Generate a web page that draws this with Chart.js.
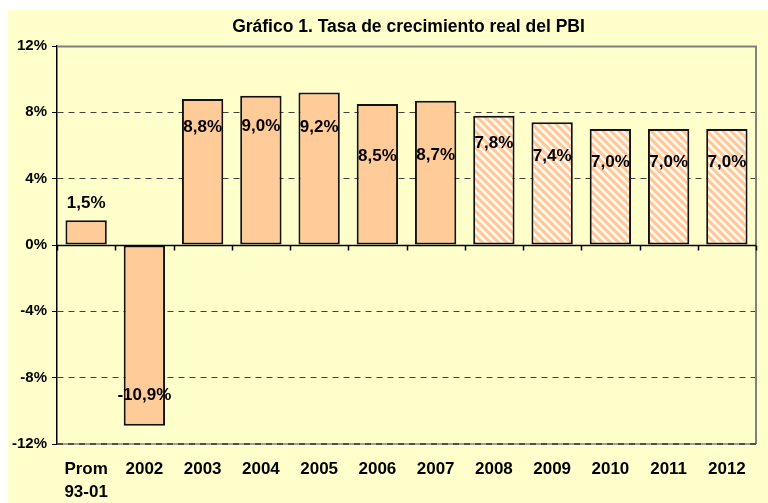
<!DOCTYPE html>
<html><head><meta charset="utf-8">
<script src="https://cdn.jsdelivr.net/npm/chart.js@4"></script>
<style>html,body{margin:0;padding:0;background:#fff}#wrap{width:768px;height:503px;position:relative}</style>
</head><body><div id="wrap"><canvas id="c" width="768" height="503"></canvas></div>
<script>
const categories = [['Prom','93-01'],'2002','2003','2004','2005','2006','2007','2008','2009','2010','2011','2012'];
const growth = [1.5,-10.9,8.8,9.0,9.2,8.5,8.7,7.8,7.4,7.0,7.0,7.0];
const projected = [false,false,false,false,false,false,false,true,true,true,true,true];
const yMin = -12, yMax = 12, yStep = 4;
const chartTitle = 'Gráfico 1. Tasa de crecimiento real del PBI';

const FONT = '"Liberation Sans", Arial, sans-serif';
const canvas = document.getElementById('c');
const ctx0 = canvas.getContext('2d');

function makeHatch(){
  const p = document.createElement('canvas'); p.width = 8; p.height = 8;
  const g = p.getContext('2d');
  g.fillStyle = '#ffffff'; g.fillRect(0,0,8,8);
  g.strokeStyle = '#FFC896'; g.lineWidth = 3.2;
  g.beginPath();
  for (const k of [-8,0,8]) { g.moveTo(k-2,-2); g.lineTo(k+10,10); }
  g.stroke();
  return ctx0.createPattern(p,'repeat');
}
const hatch = makeHatch();

const fmt = v => v.toFixed(1).replace('.', ',') + '%';

const framePlugin = {
  id: 'frame',
  beforeDraw(chart){
    const c = chart.ctx;
    c.save();
    c.fillStyle = '#FFFFCC';
    c.fillRect(8,10,chart.width-8,chart.height-10);
    const a = chart.chartArea;
    c.fillStyle = '#000';
    c.font = 'bold 17.5px ' + FONT;
    c.textAlign = 'center'; c.textBaseline = 'middle';
    c.fillText(chartTitle, (a.left + a.right)/2 + 2, 27);
    c.restore();
  },
  beforeDatasetsDraw(chart){
    const c = chart.ctx, a = chart.chartArea;
    c.save();
    c.strokeStyle = '#808080'; c.lineWidth = 2;
    c.beginPath();
    c.moveTo(a.left, a.top+0.5); c.lineTo(a.right, a.top+0.5);
    c.lineTo(a.right, a.bottom);
    c.stroke();
    c.strokeStyle = '#a0a0a0'; c.lineWidth = 2;
    c.beginPath(); c.moveTo(a.left, a.bottom); c.lineTo(a.right, a.bottom); c.stroke();
    c.strokeStyle = '#505050'; c.lineWidth = 2; c.setLineDash([6,5]);
    c.beginPath(); c.moveTo(a.left, a.bottom); c.lineTo(a.right, a.bottom); c.stroke();
    c.restore();
  },
  afterDatasetsDraw(chart, args, opts){
    const c = chart.ctx, a = chart.chartArea;
    const xs = chart.scales.x, ys = chart.scales.y;
    const y0 = Math.round(ys.getPixelForValue(0)) + 0.5;
    c.save();
    c.strokeStyle = '#000'; c.lineWidth = 1.5;
    c.beginPath();
    c.moveTo(a.left, y0); c.lineTo(a.right, y0);
    const catW = xs.getPixelForValue(1) - xs.getPixelForValue(0);
    for (let i = 0; i <= categories.length; i++) {
      const x = Math.round(xs.getPixelForValue(i) - catW/2) + 0.5;
      c.moveTo(x, y0); c.lineTo(x, y0 + 5);
    }
    c.stroke();
    // data labels
    const meta = chart.getDatasetMeta(0);
    c.fillStyle = '#000';
    c.font = 'bold 17px ' + FONT;
    c.textAlign = 'center'; c.textBaseline = 'middle';
    meta.data.forEach((bar, i) => {
      const v = growth[i];
      const off = opts.offsets[i];
      const y = v >= 0 ? bar.y + off : bar.y - off;
      c.fillText(fmt(v), bar.x, y);
    });
    c.restore();
  }
};

new Chart(canvas, {
  type: 'bar',
  data: {
    labels: categories,
    datasets: [{
      data: growth,
      backgroundColor: growth.map((v,i) => projected[i] ? hatch : '#FFCC99'),
      borderColor: '#111',
      borderWidth: 2,
      borderSkipped: false,
      barPercentage: 0.71,
      categoryPercentage: 1.0
    }]
  },
  options: {
    responsive: false,
    animation: false,
    devicePixelRatio: 1,
    layout: { padding: { top: 46, right: 12, bottom: 0, left: 0 } },
    plugins: {
      legend: { display: false },
      title: { display: false },
      tooltip: { enabled: false },
      frame: { offsets: [-17, 30, 28, 31, 35, 52, 55, 28, 34, 33, 33, 33] }
    },
    scales: {
      x: {
        grid: { display: false, drawTicks: false },
        border: { display: false },
        ticks: {
          color: '#000', padding: 14, maxRotation: 0, autoSkip: false,
          font: { family: FONT, size: 17, weight: 'bold', lineHeight: 1.35 }
        },
        afterFit(s){ s.height = 59; }
      },
      y: {
        min: yMin, max: yMax,
        ticks: {
          stepSize: yStep, color: '#000', padding: 5,
          font: { family: FONT, size: 15, weight: 'bold' },
          callback: v => v + '%'
        },
        grid: {
          color: c => (c.tick && (c.tick.value === 0 || c.tick.value === yMax || c.tick.value === yMin)) ? 'rgba(0,0,0,0)' : '#404040',
          tickColor: '#000', tickLength: 5, lineWidth: 1
        },
        border: { display: true, color: '#000', width: 1.5, dash: [6,5] },
        afterFit(s){ s.width = 57; }
      }
    }
  },
  plugins: [framePlugin]
});
</script>
</body></html>
